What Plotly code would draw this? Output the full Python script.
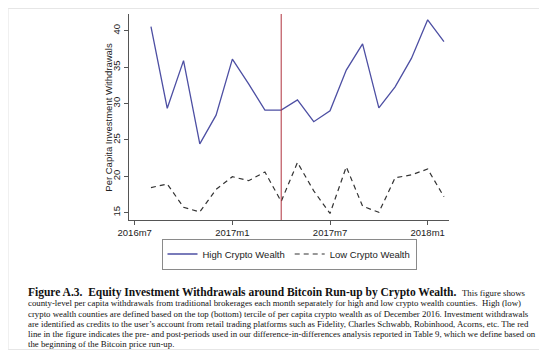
import plotly.graph_objects as go

# ---------------- data ----------------
months = ["2016m8", "2016m9", "2016m10", "2016m11", "2016m12", "2017m1", "2017m2",
          "2017m3", "2017m4", "2017m5", "2017m6", "2017m7", "2017m8", "2017m9",
          "2017m10", "2017m11", "2017m12", "2018m1", "2018m2"]
high_crypto = [40.55, 29.35, 35.9, 24.45, 28.4, 36.1, 32.7, 29.1, 29.1, 30.5,
               27.5, 29.0, 34.6, 38.2, 29.4, 32.3, 36.2, 41.5, 38.5]
low_crypto = [18.45, 18.95, 15.75, 15.1, 18.2, 19.95, 19.4, 20.6, 16.55, 21.9,
              18.0, 14.9, 21.3, 15.9, 15.05, 19.8, 20.2, 21.0, 17.2]
tick_labels = ["2016m7", "2017m1", "2017m7", "2018m1"]
y_ticks = [15, 20, 25, 30, 35, 40]
event_month = "2017m4"
y_title = "Per Capita Investment Withdrawals"

BASE = "2016m7"


def month_index(m):
    y, mo = m.split("m")
    by, bm = BASE.split("m")
    return (int(y) - int(by)) * 12 + (int(mo) - int(bm))


x_vals = [month_index(m) for m in months]
tick_vals = [month_index(m) for m in tick_labels]
event_x = month_index(event_month)

# ---------------- layout geometry ----------------
OFF = 8  # default page body margin
W, H = 547 - OFF, 358 - 2 * OFF
L, R, T, B = 129.3, 449.0, 14.0, 220.0  # target window pixels of plot area


def px_x(px):
    return (px - L) / (R - L)


def px_y(py):
    return (B - py) / (B - T)


SANS = "Liberation Sans, Arial, sans-serif"
SERIF = "Liberation Serif, Times New Roman, serif"

fig = go.Figure()
fig.add_trace(go.Scatter(x=x_vals, y=high_crypto, mode="lines", name="High Crypto Wealth",
                         line=dict(color="#4d4fa3", width=1.3)))
fig.add_trace(go.Scatter(x=x_vals, y=low_crypto, mode="lines", name="Low Crypto Wealth",
                         line=dict(color="#333333", width=1.2, dash="5px,4px")))

fig.add_shape(type="line", xref="x", yref="paper", x0=event_x, x1=event_x, y0=0, y1=1,
              line=dict(color="#b0323e", width=1))

# faint frame around whole figure
fig.add_shape(type="rect", xref="paper", yref="paper",
              x0=px_x(OFF + 0.5), x1=px_x(542), y0=px_y(OFF + 0.5), y1=px_y(349.5),
              line=dict(color="#e6e6e6", width=1), layer="below")

fig.update_layout(
    width=W, height=H,
    margin=dict(l=L - OFF, r=W - (R - OFF), t=T - OFF, b=H - (B - OFF), pad=0),
    paper_bgcolor="white", plot_bgcolor="white",
    font=dict(family=SANS, size=9, color="#333333"),
    showlegend=True,
    legend=dict(orientation="h", x=0.5, xanchor="center", y=px_y(238.5), yanchor="top",
                bordercolor="#8a8a8a", borderwidth=1, font=dict(size=9.5, color="#222222"),
                bgcolor="white", itemwidth=30, tracegroupgap=0),
    xaxis=dict(range=[-0.35, 19.31], tickmode="array", tickvals=tick_vals, ticktext=tick_labels,
               showgrid=False, zeroline=False, showline=True, linecolor="#555555", linewidth=1,
               ticks="outside", ticklen=4, tickcolor="#555555",
               tickfont=dict(size=9.5, color="#222222")),
    yaxis=dict(range=[14.0, 42.3], tickmode="array", tickvals=y_ticks,
               showgrid=False, zeroline=False, showline=True, linecolor="#555555", linewidth=1,
               ticks="outside", ticklen=4, tickcolor="#555555", tickangle=-90,
               tickfont=dict(size=9.5, color="#222222")),
)

# y-axis title
fig.add_annotation(xref="paper", yref="paper", x=px_x(108), y=px_y(117), xanchor="center",
                   yanchor="middle", showarrow=False, textangle=-90, text=y_title,
                   font=dict(family=SANS, size=9.5, color="#222222"))

# ---------------- caption ----------------
fig.add_annotation(xref="paper", yref="paper", x=px_x(26.5), y=px_y(292), xanchor="left",
                   yanchor="middle", showarrow=False,
                   text="<b>Figure A.3.  Equity Investment Withdrawals around Bitcoin Run-up by Crypto Wealth.</b>",
                   font=dict(family=SERIF, size=11.5, color="#111111"))
fig.add_annotation(xref="paper", yref="paper", x=px_x(528), y=px_y(292.5), xanchor="right",
                   yanchor="middle", showarrow=False, text="This figure shows",
                   font=dict(family=SERIF, size=8.8, color="#111111"))

body = [
    "county-level per capita withdrawals from traditional brokerages each month separately for high and low crypto wealth counties.  High (low)",
    "crypto wealth counties are defined based on the top (bottom) tercile of per capita crypto wealth as of December 2016. Investment withdrawals",
    "are identified as credits to the user’s account from retail trading platforms such as Fidelity, Charles Schwabb, Robinhood, Acorns, etc. The red",
    "line in the figure indicates the pre- and post-periods used in our difference-in-differences analysis reported in Table 9, which we define based on",
    "the beginning of the Bitcoin price run-up.",
]
line_y = [303.3, 314.0, 324.3, 334.3, 344.0]
for txt, yy in zip(body, line_y):
    fig.add_annotation(xref="paper", yref="paper", x=px_x(26.5), y=px_y(yy), xanchor="left",
                       yanchor="middle", showarrow=False, text=txt,
                       font=dict(family=SERIF, size=8.8, color="#111111"))

fig.write_html("out.html")
